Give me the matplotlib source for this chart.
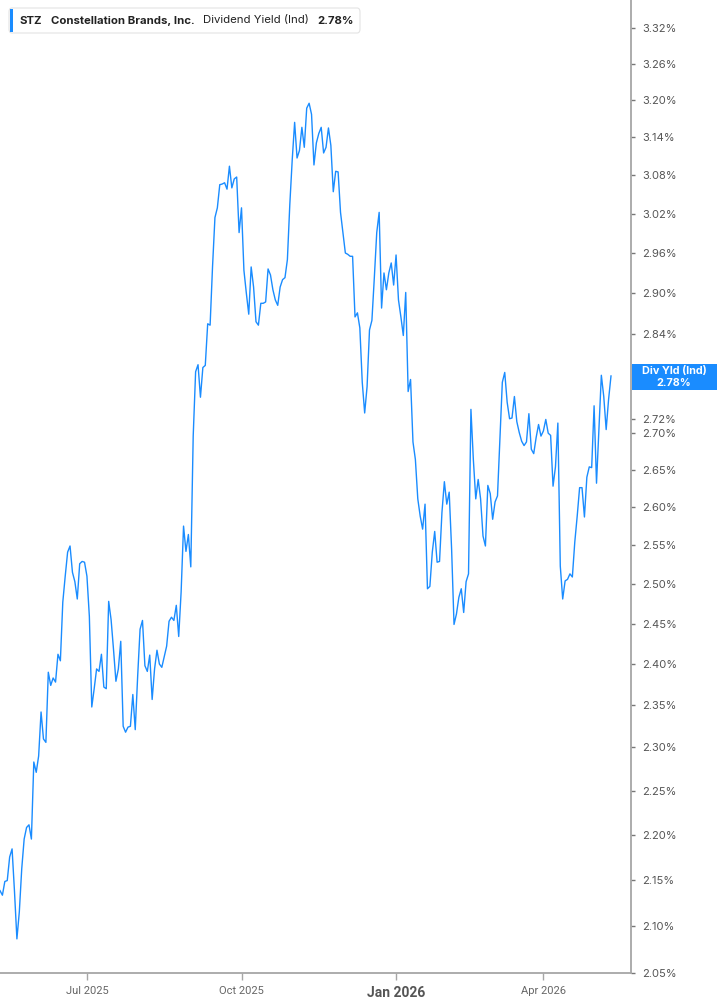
import numpy as np
import pandas as pd
import matplotlib
matplotlib.use("Agg")
import matplotlib.pyplot as plt
from matplotlib.patches import FancyBboxPatch, Rectangle

# ---------------- data ----------------
ticker = "STZ"
company = "Constellation Brands, Inc."
metric = "Dividend Yield (Ind)"
last_label = "2.78%"
badge_title = "Div Yld (Ind)"

start_date = "2025-05-08"
holidays = ["2025-05-26", "2025-06-19", "2025-07-04", "2025-09-01", "2025-11-27",
            "2025-12-25", "2026-01-01", "2026-01-19", "2026-02-16", "2026-04-03"]

yield_pct = [
    2.138, 2.133, 2.148, 2.149, 2.175, 2.184, 2.137, 2.086, 2.115, 2.162,
    2.195, 2.208, 2.211, 2.195, 2.283, 2.271, 2.290, 2.342, 2.310, 2.306,
    2.390, 2.374, 2.383, 2.378, 2.412, 2.404, 2.477, 2.510, 2.541, 2.549,
    2.515, 2.503, 2.481, 2.526, 2.529, 2.528, 2.510, 2.459, 2.348, 2.370,
    2.394, 2.391, 2.412, 2.372, 2.370,
    2.478, 2.455, 2.418, 2.379, 2.394, 2.428, 2.325, 2.318, 2.324, 2.325,
    2.363, 2.321, 2.385, 2.443, 2.454, 2.398, 2.391, 2.411, 2.357, 2.394,
    2.417, 2.400, 2.396, 2.409, 2.422, 2.453, 2.458, 2.454, 2.473, 2.434,
    2.490, 2.575, 2.542, 2.564, 2.522, 2.696, 2.786, 2.796, 2.750, 2.792,
    2.795, 2.855,
    2.853, 2.939, 3.014, 3.029, 3.065, 3.066, 3.068, 3.058, 3.094, 3.060,
    3.074, 3.077, 2.991, 3.029, 2.934, 2.900, 2.869, 2.939, 2.909, 2.858,
    2.853, 2.885, 2.885, 2.887, 2.936, 2.927, 2.905, 2.890, 2.882, 2.909,
    2.920, 2.923, 2.950, 3.034, 3.104, 3.164, 3.107, 3.119, 3.156, 3.124,
    3.187, 3.195, 3.177,
    3.096, 3.131, 3.146, 3.156, 3.115, 3.124, 3.155, 3.127, 3.054, 3.086,
    3.085, 3.022, 2.991, 2.960, 2.958, 2.955, 2.955, 2.865, 2.871, 2.849,
    2.771, 2.728, 2.765, 2.846, 2.860, 2.923, 2.991, 3.022, 2.878, 2.930,
    2.905, 2.930, 2.945, 2.912, 2.957, 2.890, 2.865, 2.838, 2.901, 2.758,
    2.775,
    2.688, 2.664, 2.611, 2.588, 2.571, 2.604, 2.494, 2.497, 2.541, 2.568,
    2.528, 2.529, 2.593, 2.634, 2.604, 2.620, 2.545, 2.449, 2.462, 2.483,
    2.494, 2.464, 2.503, 2.513, 2.733, 2.664, 2.611, 2.637, 2.611, 2.562,
    2.549, 2.629, 2.618, 2.584, 2.607, 2.615, 2.692,
    2.771, 2.785, 2.743, 2.720, 2.721, 2.751, 2.716, 2.701, 2.689, 2.683,
    2.688, 2.727, 2.678, 2.672, 2.694, 2.712, 2.696, 2.703, 2.719, 2.700,
    2.697, 2.628, 2.654, 2.714, 2.523, 2.481, 2.504, 2.506, 2.513, 2.509,
    2.554, 2.588, 2.626, 2.626, 2.587, 2.640, 2.654, 2.653, 2.738, 2.632,
    2.705, 2.781, 2.751, 2.705, 2.747, 2.780,
]

y_ticks = [2.05, 2.10, 2.15, 2.20, 2.25, 2.30, 2.35, 2.40, 2.45, 2.50, 2.55,
           2.60, 2.65, 2.70, 2.72, 2.84, 2.90, 2.96, 3.02, 3.08, 3.14,
           3.20, 3.26, 3.32]
x_tick_dates = ["2025-07-01", "2025-10-01", "2026-01-02", "2026-04-01"]
x_tick_labels = ["Jul 2025", "Oct 2025", "Jan 2026", "Apr 2026"]
x_tick_bold = [False, False, True, False]

# ---------------- figure ----------------
W, H = 717, 1005
fig = plt.figure(figsize=(W / 100, H / 100), dpi=100)
fig.patch.set_facecolor("white")

dates = pd.bdate_range(start=start_date, periods=len(yield_pct), freq="C",
                       holidays=holidays)
idx = np.arange(len(yield_pct))

ax_right, ax_bottom = 631, 973
ax = fig.add_axes([0, 1 - ax_bottom / H, ax_right / W, ax_bottom / H])
line_color = "#1a8cff"
ax.plot(idx, yield_pct, color=line_color, lw=1.0, solid_joinstyle="round")

ax.set_yscale("log")
ax.set_ylim(2.05, 2.05 * np.exp(973 / 1960))
ax.set_xlim(0, (len(yield_pct) - 1) * ax_right / 611)

for s in ["left", "top"]:
    ax.spines[s].set_visible(False)
for s in ["right", "bottom"]:
    ax.spines[s].set_color("#a6a6a6")
    ax.spines[s].set_linewidth(1.3)

ax.yaxis.tick_right()
ax.yaxis.set_minor_locator(matplotlib.ticker.NullLocator())
ax.set_yticks(y_ticks)
ax.set_yticklabels([f"{v:.2f}%" for v in y_ticks])
ax.tick_params(axis="y", which="major", direction="out", length=3, width=1,
               color="#777777", labelsize=8, labelcolor="#555555", pad=5)
for lab in ax.get_yticklabels():
    lab.set_family(["Inter", "DejaVu Sans"])

tick_pos = [int(dates.searchsorted(pd.Timestamp(d))) for d in x_tick_dates]
ax.set_xticks(tick_pos)
ax.set_xticklabels(x_tick_labels)
ax.tick_params(axis="x", direction="out", length=5, width=1, color="#a6a6a6",
               labelsize=8, labelcolor="#666666", pad=4)
for lab, b in zip(ax.get_xticklabels(), x_tick_bold):
    lab.set_family(["Roboto", "DejaVu Sans"])
    lab.set_fontstretch("condensed")
    if b:
        lab.set_fontweight("bold")
        lab.set_fontsize(10)
        lab.set_color("#555555")

# ---------------- badge on the right axis ----------------
def fx(x):
    return x / W

def fy(y):
    return 1 - y / H

badge = Rectangle((fx(632), fy(390)), fx(717) - fx(632), fy(364) - fy(390),
                  transform=fig.transFigure, facecolor="#1a8cff",
                  edgecolor="none", zorder=5)
fig.patches.append(badge)
fig.text(fx(674), fy(371), badge_title, color="white", fontsize=7.8,
         fontweight="bold", ha="center", va="center", zorder=6,
         family=["Inter", "DejaVu Sans"])
fig.text(fx(674), fy(383), last_label, color="white", fontsize=7.8,
         fontweight="bold", ha="center", va="center", zorder=6,
         family=["Inter", "DejaVu Sans"])

# ---------------- header legend ----------------
hdr = FancyBboxPatch((fx(9), fy(33)), fx(360) - fx(9), fy(8) - fy(33),
                     boxstyle="round,pad=0,rounding_size=0.004",
                     transform=fig.transFigure, facecolor="white",
                     edgecolor="#e3e3e3", linewidth=0.8, zorder=5)
fig.patches.append(hdr)
bar = Rectangle((fx(10), fy(32)), fx(13) - fx(10), fy(9) - fy(32),
                transform=fig.transFigure, facecolor="#1a8cff",
                edgecolor="none", zorder=6)
fig.patches.append(bar)

hfam = ["Inter", "DejaVu Sans"]
ty = fy(20.5)
renderer = fig.canvas.get_renderer()
parts = [(ticker, "bold", 9), (company, "bold", 8), (metric, "normal", 8),
         (last_label, "bold", 8)]
xcur = 20
for text, weight, gap in parts:
    t = fig.text(fx(xcur), ty, text, fontsize=8.2, fontweight=weight,
                 color="#222222", va="center", ha="left", family=hfam, zorder=7)
    bb = t.get_window_extent(renderer=renderer)
    xcur += bb.width + gap

fig.savefig("out.png", dpi=100, facecolor="white")
